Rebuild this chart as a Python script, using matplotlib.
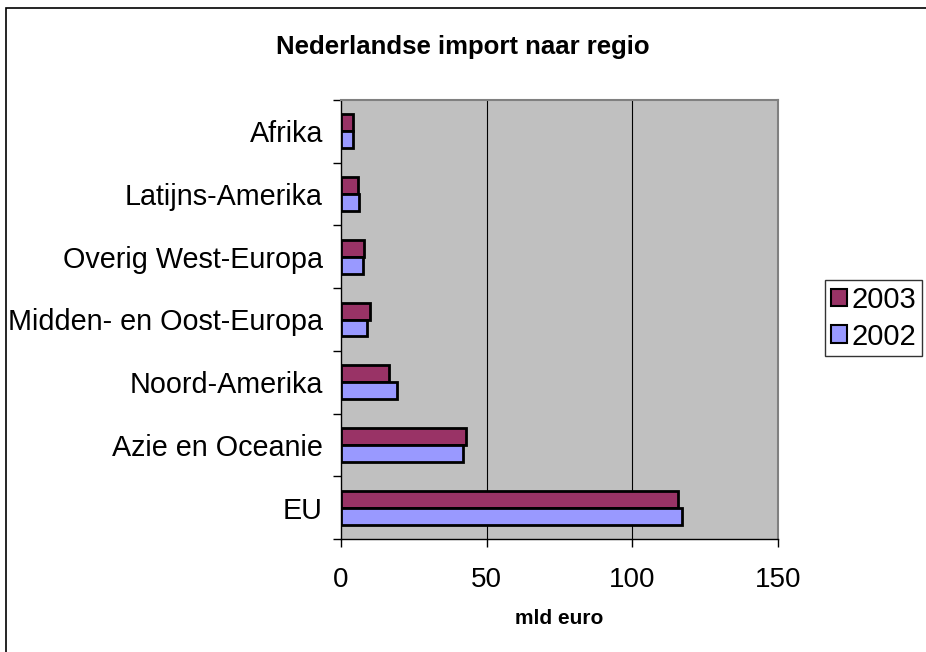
import matplotlib
matplotlib.use("Agg")
import matplotlib.pyplot as plt
from matplotlib.patches import Rectangle, Patch
import numpy as np

plt.rcParams['font.family'] = ['Liberation Sans', 'DejaVu Sans']

categories = ["EU", "Azie en Oceanie", "Noord-Amerika", "Midden- en Oost-Europa",
              "Overig West-Europa", "Latijns-Amerika", "Afrika"]
values_2003 = [115.7, 42.9, 16.6, 10.0, 8.0, 5.9, 4.2]
values_2002 = [117.0, 41.8, 19.1, 8.9, 7.5, 6.3, 4.2]
x_ticks = [0, 50, 100, 150]

W, H = 926, 652
fig = plt.figure(figsize=(W / 100, H / 100), dpi=100)
fig.patch.set_facecolor("white")

# outer chart border
fig.patches.append(Rectangle((5.5 / W, -0.1), 1.2, 1.1 - 7.5 / H,
                             transform=fig.transFigure, fill=False,
                             edgecolor="black", linewidth=1.2))

L, R, T, B = 341, 778, 100, 539
ax = fig.add_axes([L / W, (H - B) / H, (R - L) / W, (B - T) / H])
ax.set_facecolor("#C0C0C0")

y = np.arange(len(categories))
h = 0.27
ax.barh(y + h / 2, values_2003, height=h, color="#993366", edgecolor="black",
        linewidth=2.0, label="2003", zorder=3)
ax.barh(y - h / 2, values_2002, height=h, color="#9999FF", edgecolor="black",
        linewidth=2.0, label="2002", zorder=3)

ax.set_xlim(0, 150)
ax.set_ylim(-0.5, len(categories) - 0.5)
ax.set_xticks(x_ticks)
ax.set_xticklabels([str(t) for t in x_ticks], fontsize=20)
ax.tick_params(axis="x", length=6, width=1, pad=14, direction="out")
ax.set_yticks(y)
ax.set_yticklabels(categories, fontsize=20.7)
ax.tick_params(axis="y", which="major", length=0, pad=13)
ax.set_yticks(np.arange(-0.5, len(categories), 1.0), minor=True)
ax.tick_params(axis="y", which="minor", length=6, width=1, direction="out")

for xv in [50, 100]:
    ax.axvline(xv, color="black", linewidth=0.8, zorder=1)

for side in ["top", "right"]:
    ax.spines[side].set_color("#808080")
    ax.spines[side].set_linewidth(1.5)
for side in ["left", "bottom"]:
    ax.spines[side].set_color("black")
    ax.spines[side].set_linewidth(1.0)

fig.text((L + R) / 2 / W, 1 - 619 / H, "mld euro", ha="center", va="center",
         fontsize=15, fontweight="bold")
fig.text(0.5, 1 - 47 / H, "Nederlandse import naar regio",
         ha="center", va="center", fontsize=18.5, fontweight="bold")

handles = [Patch(facecolor="#993366", edgecolor="black", linewidth=1.5, label="2003"),
           Patch(facecolor="#9999FF", edgecolor="black", linewidth=1.5, label="2002")]
leg = fig.legend(handles=handles, loc="upper left",
                 bbox_to_anchor=(825 / W, 1 - 280 / H), fontsize=21,
                 frameon=True, fancybox=False, edgecolor="black",
                 handlelength=0.55, handleheight=0.55, handletextpad=0.15,
                 borderpad=0.2, labelspacing=0.3, borderaxespad=0)
leg.get_frame().set_linewidth(1.0)

fig.savefig("out.png", dpi=100, facecolor="white")
